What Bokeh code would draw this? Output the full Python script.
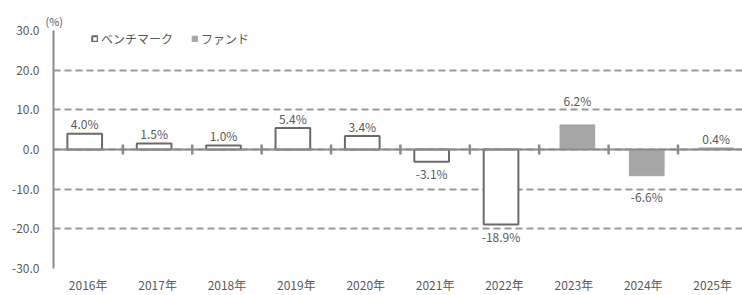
import math
from bokeh.plotting import figure
from bokeh.models import (ColumnDataSource, Range1d, FixedTicker, PrintfTickFormatter,
                          Span, Legend, LegendItem, Title)
from bokeh.core.properties import value
from bokeh.embed import file_html
from bokeh.resources import INLINE

# ---- data ----
years = ["2016年", "2017年", "2018年", "2019年", "2020年",
         "2021年", "2022年", "2023年", "2024年", "2025年"]
benchmark = [4.0, 1.5, 1.0, 5.4, 3.4, -3.1, -18.9, None, None, None]
fund = [None, None, None, None, None, None, None, 6.2, -6.6, 0.4]
y_ticks = [-30, -20, -10, 0, 10, 20, 30]
series_names = ["ベンチマーク", "ファンド"]
unit_label = "(%)"

# ---- style ----
FONT = "Noto Sans CJK JP"
TXT = "#5a5a5a"
AXIS = "#8a8a8a"
GRID = "#9a9a9a"
BENCH_LINE = "#6a6a6a"
FUND_FILL = "#a6a6a6"
OFFSET = 0.05
BAR_W = 0.5
fund_label_gap = {"2023年": 24, "2024年": 21, "2025年": 9}


def build(vals, off, gaps=None, default_up=10, default_down=12):
    xs, tops, labels, dys = [], [], [], []
    for i, v in enumerate(vals):
        if v is None:
            continue
        xs.append(i + 0.5 + off)
        tops.append(v)
        labels.append(f"{v:.1f}%")
        if gaps and years[i] in gaps:
            g = gaps[years[i]]
        else:
            g = default_up if v >= 0 else default_down
        dys.append(-g if v >= 0 else g)
    return ColumnDataSource(dict(x=xs, top=tops, label=labels, dy=dys))


src_b = build(benchmark, -OFFSET)
src_f = build(fund, OFFSET, fund_label_gap)

title = Title(text=unit_label, align="left", offset=-8, standoff=3,
              text_font=FONT, text_font_size="11px", text_color=TXT,
              text_font_style="normal")

p = figure(width=742, height=295, output_backend="svg", toolbar_location=None,
           x_range=Range1d(0, 9.93), y_range=Range1d(-30, 30),
           min_border_left=53, min_border_right=0, min_border_top=30,
           min_border_bottom=27, title=title)
p.outline_line_color = None
p.background_fill_color = "white"
p.border_fill_color = "white"

# grid
p.xgrid.visible = False
p.ygrid.ticker = FixedTicker(ticks=y_ticks)
p.ygrid.grid_line_color = GRID
p.ygrid.grid_line_width = 2
p.ygrid.grid_line_dash = "7 4"

# y axis
p.yaxis.ticker = FixedTicker(ticks=y_ticks)
p.yaxis.formatter = PrintfTickFormatter(format="%.1f")
p.yaxis.axis_line_color = AXIS
p.yaxis.axis_line_width = 2
p.yaxis.major_tick_line_color = None
p.yaxis.minor_tick_line_color = None
p.yaxis.major_tick_out = 0
p.yaxis.major_tick_in = 0
p.yaxis.major_label_standoff = 14
p.yaxis.major_label_text_font = FONT
p.yaxis.major_label_text_font_size = "12px"
p.yaxis.major_label_text_color = TXT

# x axis (labels only)
centers = [i + 0.5 for i in range(len(years))]
p.xaxis.ticker = FixedTicker(ticks=centers)
p.xaxis.major_label_overrides = {c: y for c, y in zip(centers, years)}
p.xaxis.axis_line_color = None
p.xaxis.major_tick_line_color = None
p.xaxis.minor_tick_line_color = None
p.xaxis.major_tick_out = 0
p.xaxis.major_tick_in = 0
p.xaxis.major_label_standoff = 7
p.xaxis.major_label_text_font = FONT
p.xaxis.major_label_text_font_size = "12px"
p.xaxis.major_label_text_color = TXT

# bars
rb = p.vbar(x="x", top="top", bottom=0, width=BAR_W, source=src_b,
            fill_color="white", line_color=BENCH_LINE, line_width=2)
rf = p.vbar(x="x", top="top", bottom=0, width=BAR_W, source=src_f,
            fill_color=FUND_FILL, line_color=FUND_FILL, line_width=1)

# zero line and category ticks
p.add_layout(Span(location=0, dimension="width", line_color=AXIS, line_width=2))
bounds = list(range(1, len(years)))
p.scatter(x=bounds, y=[0] * len(bounds), marker="dash", angle=math.pi / 2,
          size=10, line_color=AXIS, line_width=2.5)

# data labels
for src in (src_b, src_f):
    p.text(x="x", y="top", text="label", y_offset="dy", source=src,
           text_align="center", text_baseline="middle",
           text_font=value(FONT), text_font_size="12px", text_color=TXT)

# legend
legend = Legend(items=[LegendItem(label=series_names[0], renderers=[rb]),
                       LegendItem(label=series_names[1], renderers=[rf])],
                location=(38, 221), orientation="horizontal",
                glyph_width=7, glyph_height=7, label_height=18,
                label_standoff=3, spacing=18, padding=0, margin=0,
                border_line_color=None, background_fill_alpha=0,
                label_text_font=FONT, label_text_font_size="12px",
                label_text_color=TXT)
p.add_layout(legend)

open("out.html", "w").write(file_html(p, INLINE))
